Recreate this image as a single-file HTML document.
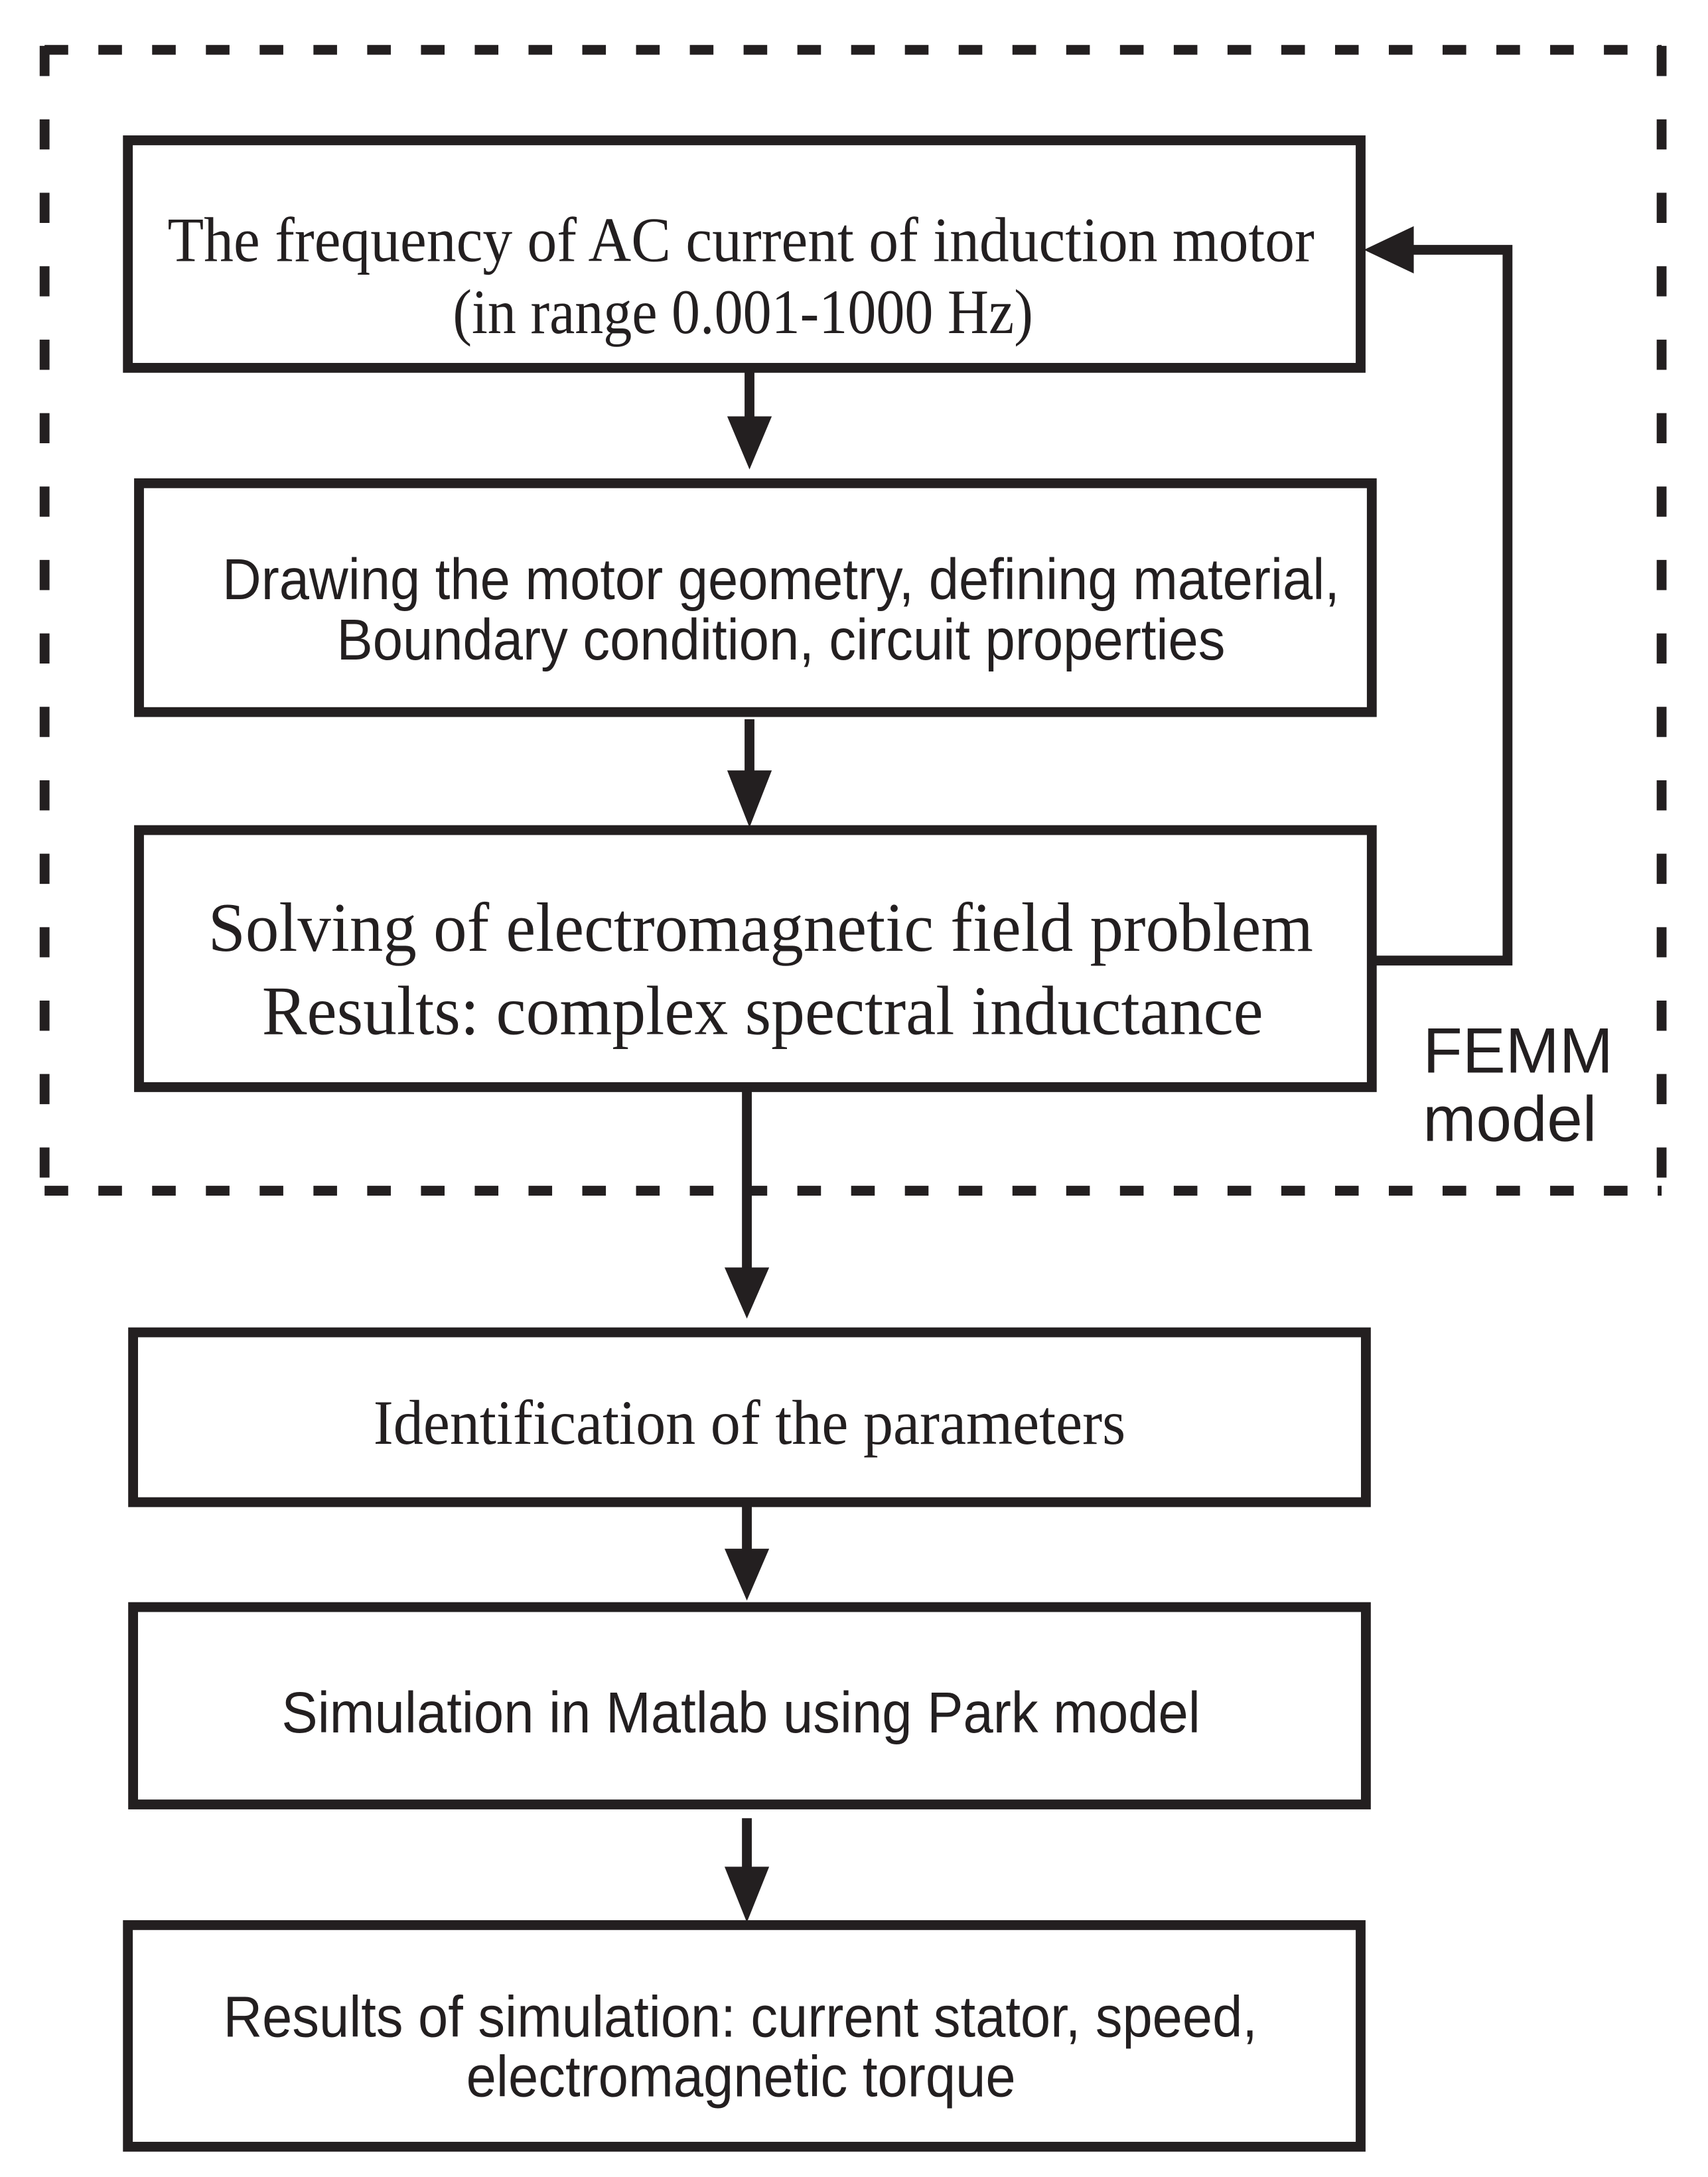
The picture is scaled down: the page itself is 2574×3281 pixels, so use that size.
<!DOCTYPE html>
<html><head><style>html,body{margin:0;padding:0;background:#fff}svg{display:block}</style></head>
<body>
<svg width="2574" height="3281" viewBox="0 0 2574 3281" xmlns="http://www.w3.org/2000/svg">
<g transform="scale(0.9882)">
<g fill="none" stroke="#231f20" stroke-width="15">
<line x1="68" y1="76" x2="2534" y2="76" stroke-dasharray="36 46"/>
<line x1="68" y1="1816" x2="2534" y2="1816" stroke-dasharray="36 46"/>
<line x1="68" y1="70" x2="68" y2="1822" stroke-dasharray="46 66"/>
<line x1="2534" y1="70" x2="2534" y2="1822" stroke-dasharray="46 66"/>
<rect x="195" y="214" width="1880" height="347"/>
<rect x="212" y="737" width="1880" height="349"/>
<rect x="212" y="1266" width="1880" height="392"/>
<rect x="203" y="2032" width="1880" height="259"/>
<rect x="203" y="2451" width="1880" height="301"/>
<rect x="195" y="2936" width="1880" height="338"/>
<line x1="1143" y1="561" x2="1143" y2="650"/>
<line x1="1143" y1="1097" x2="1143" y2="1185"/>
<line x1="1139" y1="1658" x2="1139" y2="1940"/>
<line x1="1139" y1="2291" x2="1139" y2="2380"/>
<line x1="1139" y1="2773" x2="1139" y2="2860"/>
<polyline points="2092,1465 2299,1465 2299,381 2150,381"/>
</g>
<g fill="#231f20">
<polygon points="1109,635 1177,635 1143,716"/>
<polygon points="1109,1175 1177,1175 1143,1262"/>
<polygon points="1105,1933 1173,1933 1139,2011"/>
<polygon points="1105,2362 1173,2362 1139,2441"/>
<polygon points="1105,2847 1173,2847 1139,2932"/>
<polygon points="2156,345 2156,417 2080,381"/>
</g>
<g fill="#231f20" font-family="Liberation Serif, serif" text-anchor="middle">
<text x="1130" y="398" font-size="96" textLength="1749" lengthAdjust="spacingAndGlyphs">The frequency of AC current of induction motor</text>
<text x="1133" y="508" font-size="96" textLength="885" lengthAdjust="spacingAndGlyphs">(in range 0.001-1000 Hz)</text>
<text x="1160" y="1450" font-size="106" textLength="1685" lengthAdjust="spacingAndGlyphs">Solving of electromagnetic field problem</text>
<text x="1163" y="1577" font-size="106" textLength="1527" lengthAdjust="spacingAndGlyphs">Results: complex spectral inductance</text>
<text x="1143" y="2202" font-size="96" textLength="1147" lengthAdjust="spacingAndGlyphs">Identification of the parameters</text>
</g>
<g fill="#231f20" font-family="Liberation Sans, sans-serif" text-anchor="middle">
<text x="1191" y="914" font-size="88" textLength="1704" lengthAdjust="spacingAndGlyphs">Drawing the motor geometry, defining material,</text>
<text x="1191" y="1006" font-size="88" textLength="1355" lengthAdjust="spacingAndGlyphs">Boundary condition, circuit properties</text>
<text x="1130" y="2642" font-size="88" textLength="1401" lengthAdjust="spacingAndGlyphs">Simulation in Matlab using Park model</text>
<text x="1129" y="3106" font-size="88" textLength="1577" lengthAdjust="spacingAndGlyphs">Results of simulation: current stator, speed,</text>
<text x="1130" y="3197" font-size="88" textLength="838" lengthAdjust="spacingAndGlyphs">electromagnetic torque</text>
</g>
<g fill="#231f20" font-family="Liberation Sans, sans-serif">
<text x="2170" y="1636" font-size="98" textLength="290" lengthAdjust="spacingAndGlyphs">FEMM</text>
<text x="2170" y="1740" font-size="98" textLength="265" lengthAdjust="spacingAndGlyphs">model</text>
</g>
</g>
</svg>
</body></html>
